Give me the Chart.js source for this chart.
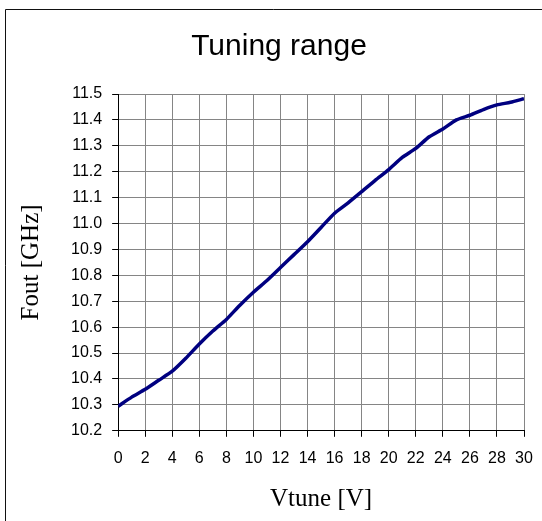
<!DOCTYPE html>
<html>
<head>
<meta charset="utf-8">
<title>Tuning range</title>
<script src="https://cdn.jsdelivr.net/npm/chart.js@4.4.1/dist/chart.umd.min.js"></script>
<style>
    html, body { margin: 0; padding: 0; background: #fff; }
    #wrap { width: 542px; height: 521px; }
</style>
</head>
<body>
<div id="wrap"><canvas id="tuningChart" width="542" height="521"></canvas></div>
<script>
const vtune = [0, 1, 2, 3, 4, 5, 6, 7, 8, 9, 10, 11, 12, 13, 14, 15, 16, 17, 18, 19, 20,
    21, 22, 23, 24, 25, 26, 27, 28, 29, 30];
const fout = [10.295, 10.33, 10.36, 10.395, 10.43, 10.48, 10.535, 10.585, 10.63, 10.685, 10.735,
    10.78, 10.83, 10.88, 10.93, 10.985, 11.04, 11.08, 11.123, 11.167, 11.208,
    11.255, 11.29, 11.335, 11.365, 11.40, 11.418, 11.44, 11.458, 11.468, 11.482];

const xTitle = 'Vtune [V]';
const yTitle = 'Fout [GHz]';
const chartTitle = 'Tuning range';

// frame around the whole chart (only top/left edge fall inside the picture)
const framePlugin = {
    id: 'frame',
    beforeDraw(chart) {
        const ctx = chart.ctx;
        ctx.save();
        ctx.fillStyle = '#fff';
        ctx.fillRect(0, 0, chart.width, chart.height);
        ctx.strokeStyle = '#111';
        ctx.lineWidth = 1;
        ctx.beginPath();
        ctx.moveTo(5.5, chart.height);
        ctx.lineTo(5.5, 9.5);
        ctx.lineTo(chart.width, 9.5);
        ctx.stroke();
        ctx.restore();
    }
};

document.addEventListener('DOMContentLoaded', function () {
    const ctx = document.getElementById('tuningChart').getContext('2d');

    const points = vtune.map((v, i) => ({ x: v, y: fout[i] }));

    new Chart(ctx, {
        type: 'line',
        data: {
            datasets: [{
                data: points,
                borderColor: '#000080',
                borderWidth: 3.5,
                pointRadius: 0,
                tension: 0.2,
                fill: false,
            }],
        },
        options: {
            responsive: false,
            animation: false,
            layout: { padding: { left: 16, top: 29, right: 0, bottom: 7 } },
            plugins: {
                legend: { display: false },
                tooltip: { enabled: false },
                title: {
                    display: true,
                    text: chartTitle,
                    color: '#000',
                    font: { family: 'Liberation Sans', size: 30, weight: 'normal' },
                    padding: { top: 0, bottom: 29 },
                },
            },
            scales: {
                x: {
                    type: 'linear',
                    min: 0,
                    max: 30,
                    // leave 18px of room right of the plot for the "30" label
                    afterFit: (scale) => { scale.paddingRight = 18; },
                    ticks: {
                        stepSize: 2,
                        color: '#000',
                        padding: 12,
                        maxRotation: 0,
                        font: { family: 'Liberation Sans', size: 16 },
                    },
                    grid: { color: '#858585', tickColor: '#000', tickLength: 6, lineWidth: 1 },
                    border: { color: '#000', width: 1 },
                    title: {
                        display: true,
                        text: xTitle,
                        color: '#000',
                        font: { family: 'Liberation Serif', size: 25 },
                        padding: { top: 4, bottom: 0 },
                    },
                },
                y: {
                    min: 10.2,
                    max: 11.5,
                    ticks: {
                        stepSize: 0.1,
                        color: '#000',
                        padding: 10,
                        font: { family: 'Liberation Sans', size: 16 },
                        callback: (value) => Number(value).toFixed(1),
                    },
                    grid: { color: '#858585', tickColor: '#000', tickLength: 6, lineWidth: 1 },
                    border: { color: '#000', width: 1 },
                    title: {
                        display: true,
                        text: yTitle,
                        color: '#000',
                        font: { family: 'Liberation Serif', size: 25 },
                        padding: { top: 0, bottom: 15 },
                    },
                },
            },
        },
        plugins: [framePlugin],
    });
});
</script>
</body>
</html>
